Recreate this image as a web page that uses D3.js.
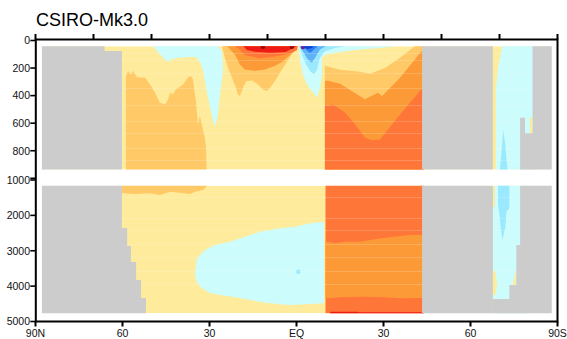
<!DOCTYPE html>
<html><head><meta charset="utf-8">
<script src="https://cdn.jsdelivr.net/npm/d3@7"></script>
<style>body{margin:0;background:#fff}svg{display:block}text{font-family:"Liberation Sans",Arial,Helvetica,sans-serif}</style>
</head><body><svg id="c" width="567" height="339"></svg>
<script>
// ---------- data (latitude: +N / -S, depth in metres) ----------
const title = "CSIRO-Mk3.0";
const xTickLats = [90, 60, 30, 0, -30, -60, -90];
const xTickLabels = ["90N", "60", "30", "EQ", "30", "60", "90S"];
const topTickLats = [90, 70, 50, 30, 10, -10, -30, -50, -70, -90];
const yTicksUpper = [0, 200, 400, 600, 800, 1000];
const yLabelsUpper = [0, 200, 400, 600, 800];
const yTicksLower = [1000, 2000, 3000, 4000, 5000];
const dataLatRange = [87.8, -88];
const upperDepthRange = [42, 936];
const lowerDepthRange = [1162, 4768];

const levelNames = ["purple","darkBlue","blue","lightBlue","cyan","lightCyan","paleYellow","lightOrange","orange","orangeRed","red","darkRed"];
const levelColors = ["#6b1d9c","#0b3fd1","#2a7cf0","#5fb2f5","#9be9ff","#ccfcfc","#feeb9c","#fec966","#fd9a38","#ff7738","#ee1a14","#8e0b0b"];
const landColor = "#cccccc";

// upper panel contour regions
const upperNhCyan = [[49.5,0],[49.5,40],[47.8,83],[46.0,126],[44.3,155],[42.9,134],[40.2,126],[36.7,119],[34.7,119],[33.3,155],[32.2,220],[31.2,343],[29.8,487],[28.8,581],[28.1,625],[27.1,538],[26.4,394],[25.7,292],[25.3,184],[25.7,76],[27.1,40],[27.1,0]];
const upperNhOrangeBlob = [[58.8,1000],[58.8,256],[58.1,222],[57.1,247],[56.4,222],[55.0,266],[52.2,271],[50.5,319],[48.8,379],[47.1,451],[45.3,464],[44.3,427],[43.6,379],[42.6,391],[41.6,355],[39.1,319],[37.4,266],[36.4,258],[35.7,283],[34.7,439],[34.0,608],[33.3,547],[32.2,656],[31.6,704],[31.2,776],[30.9,1000]];
const eqLightOrange = [[25.7,0],[25.7,40],[24.7,126],[23.6,199],[22.2,271],[20.9,343],[20.2,391],[19.5,403],[18.4,343],[17.4,295],[15.3,290],[13.3,319],[11.6,355],[10.2,367],[9.1,343],[7.1,283],[4.7,199],[2.2,119],[0.5,69],[-0.7,40],[-0.7,0]];
const eqOrange = [[24.0,0],[24.0,40],[21.2,103],[19.5,175],[17.8,211],[14.3,220],[10.9,211],[7.4,184],[4.7,153],[2.2,105],[0.5,61],[-0.5,40],[-0.5,0]];
const eqOrangeRed = [[21.2,0],[21.2,40],[19.5,69],[17.8,105],[12.6,129],[7.4,117],[2.2,97],[-0.2,69],[-0.4,40],[-0.4,0]];
const eqRed = [[18.4,0],[18.4,40],[17.1,69],[14.3,81],[9.1,88],[3.8,83],[1.2,56],[-0.2,40],[-0.2,0]];
const shLightCyan = [[-0.7,0],[-0.7,40],[-1.2,148],[-2.2,247],[-3.6,319],[-5.3,367],[-6.7,403],[-7.1,415],[-8.1,343],[-8.8,247],[-8.8,126],[-9.8,103],[-15.0,83],[-21.9,66],[-28.8,54],[-35.0,40],[-35.0,0]];
const shCyan = [[-0.9,0],[-0.9,40],[-1.9,103],[-3.3,175],[-4.7,222],[-6.0,247],[-7.1,211],[-8.1,126],[-9.8,78],[-13.3,54],[-16.7,40],[-16.7,0]];
const shLightBlue = [[-1.2,0],[-1.2,40],[-2.2,78],[-4.0,139],[-5.3,162],[-6.7,114],[-8.1,66],[-10.2,40],[-10.2,0]];
const shBlue = [[-1.9,0],[-1.9,40],[-3.3,66],[-4.7,90],[-6.0,66],[-7.4,40],[-7.4,0]];
const shDarkBlue = [[-2.2,0],[-2.2,40],[-3.6,61],[-5.3,54],[-6.0,40],[-6.0,0]];
const soLightOrange = [[-9.8,1000],[-9.8,184],[-10.9,191],[-15.0,213],[-21.9,227],[-25.3,242],[-30.5,199],[-35.7,126],[-40.9,40],[-40.9,0],[-44,0],[-44,1000]];
const soOrange = [[-9.8,1000],[-9.8,292],[-10.9,292],[-15.0,314],[-23.6,427],[-28.1,379],[-29.5,403],[-35.7,271],[-42.6,90],[-44,60],[-44,1000]];
const soOrangeRed = [[-9.8,1000],[-9.8,473],[-10.9,473],[-12.6,464],[-16.7,523],[-20.2,608],[-23.6,704],[-26.0,723],[-28.8,718],[-34.0,581],[-42.6,365],[-44,340],[-44,1000]];
const antLightCyan = [[-70.9,0],[-70.9,40],[-69.5,200],[-68.8,343],[-68.8,1000],[-82,1000],[-82,0]];
const antCyanSpike = [[-69.9,1000],[-70.5,850],[-71.3,644],[-72.0,760],[-73.0,1000]];
const antYellowNotch = [[-80.5,560],[-81.4,560],[-81.4,673],[-80.5,673]];
const upperSpots = [["darkRed",11.6,46],["darkRed",1.6,46],["purple",-2.2,47]];
const upperLevelLines = [89,142,236,345,468,582,671,780,867];
const upperLandNorth = [[88,0],[66.2,0],[66.2,76],[60.2,76],[60.2,1000],[88,1000]];
const upperLandMid = [[-43.3,0],[-67.7,0],[-67.7,1000],[-43.3,1000]];
const upperLandSouth = [[-81.4,0],[-90,0],[-90,1000],[-77.1,1000],[-77.1,560],[-78.8,560],[-78.8,673],[-81.4,673]];

// lower panel contour regions
const lowerNhLightOrange = [[60.2,1000],[60.2,1367],[55.7,1396],[50.5,1376],[47.1,1424],[43.6,1331],[40.2,1359],[36.7,1396],[35.0,1331],[32.2,1283],[30.9,1170],[30.9,1000]];
const lowerCyanBlob = [[35.0,3637],[34.3,3213],[31.6,2979],[28.1,2837],[22.9,2744],[17.8,2603],[12.6,2462],[5.7,2365],[0.5,2320],[-4.7,2224],[-9.5,2179],[-9.5,4486],[-4.7,4505],[2.2,4534],[5.7,4514],[10.9,4469],[16.0,4392],[21.2,4316],[26.4,4251],[29.8,4203],[33.3,4016],[34.7,3827]];
const lowerSoOrangeRed = [[-10.0,1000],[-44,1000],[-44,5000],[-10.0,5000]];
const lowerSoOrange = [[-10.0,2744],[-10.5,2744],[-13.3,2789],[-16.7,2744],[-21.9,2744],[-27.1,2676],[-32.2,2620],[-39.1,2555],[-44,2555],[-44,4336],[-42.6,4336],[-35.7,4344],[-28.8,4307],[-21.9,4299],[-15.0,4316],[-10.5,4344],[-10.0,4344]];
const lowerSoRed = [[-11.6,4723],[-21.2,4723],[-21.2,4740],[-44,4740],[-44,5000],[-11.6,5000]];
const antLowerLightCyan = [[-68.4,1000],[-68.4,1755],[-67.7,1780],[-67.7,5000],[-80,5000],[-80,1000]];
const antLowerCyan = [[-69.5,1000],[-73.4,1000],[-73.4,1792],[-72.4,1900],[-72.0,2350],[-71.0,2696],[-70.5,2400],[-70.0,2000],[-69.5,1700]];
const antLowerYellowA = [[-67.7,3520],[-68.6,3600],[-69.2,3950],[-68.6,4251],[-67.7,4251]];
const antLowerYellowB = [[-75.8,3480],[-75.8,3968],[-74.5,3968],[-75.3,3700]];
const lowerSpots = [["cyan",-0.6,3592]];
const lowerLevelLines = [1480,2074,2413,2809,3177,3573,3940];
const lowerLandNorth = [[88,1000],[60.2,1000],[60.2,2357],[58.4,2357],[58.4,2866],[57.1,2866],[57.1,3318],[55.3,3318],[55.3,3827],[53.6,3827],[53.6,4336],[51.9,4336],[51.9,5000],[88,5000]];
const lowerLandMid = [[-43.3,1000],[-67.7,1000],[-67.7,5000],[-43.3,5000]];
const lowerLandSouth = [[-77.1,1000],[-90,1000],[-90,5000],[-67.7,5000],[-67.7,4364],[-73.4,4364],[-73.4,3968],[-75.8,3968],[-75.8,2837],[-77.1,2837]];

const upperRegions = [
  ["lightCyan", upperNhCyan], ["lightOrange", upperNhOrangeBlob],
  ["lightOrange", eqLightOrange], ["orange", eqOrange], ["orangeRed", eqOrangeRed], ["red", eqRed],
  ["lightCyan", shLightCyan], ["cyan", shCyan], ["lightBlue", shLightBlue], ["blue", shBlue], ["darkBlue", shDarkBlue],
  ["lightOrange", soLightOrange], ["orange", soOrange], ["orangeRed", soOrangeRed],
  ["lightCyan", antLightCyan], ["cyan", antCyanSpike], ["paleYellow", antYellowNotch]
];
const lowerRegions = [
  ["lightOrange", lowerNhLightOrange], ["lightCyan", lowerCyanBlob],
  ["orangeRed", lowerSoOrangeRed], ["orange", lowerSoOrange], ["red", lowerSoRed],
  ["lightCyan", antLowerLightCyan], ["cyan", antLowerCyan], ["paleYellow", antLowerYellowA], ["paleYellow", antLowerYellowB]
];

// ---------- drawing ----------
const svg = d3.select("#c");
const x = d3.scaleLinear().domain([90, -90]).range([35.5, 557.5]);
const yU = d3.scaleLinear().domain([0, 1000]).range([40.5, 178.3]);
const yL = d3.scaleLinear().domain([1000, 5000]).range([180, 321.5]);
const color = d3.scaleOrdinal().domain(levelNames).range(levelColors);

function panel(id, y, depthRange, regions, spots, levelLines, lands) {
  const x0 = x(dataLatRange[0]), x1 = x(dataLatRange[1]);
  const y0 = y(depthRange[0]), y1 = y(depthRange[1]);
  svg.append("clipPath").attr("id", id).append("rect")
    .attr("x", x0).attr("y", y0).attr("width", x1 - x0).attr("height", y1 - y0);
  const g = svg.append("g").attr("clip-path", `url(#${id})`);
  g.append("rect").attr("x", x0).attr("y", y0).attr("width", x1 - x0).attr("height", y1 - y0)
    .attr("fill", color("paleYellow"));
  const line = d3.line().x(d => x(d[0])).y(d => y(d[1]));
  regions.forEach(([lvl, pts]) => g.append("path").attr("d", line(pts) + "Z").attr("fill", color(lvl)));
  spots.forEach(([lvl, lat, dep]) => g.append("circle").attr("cx", x(lat)).attr("cy", y(dep)).attr("r", 2.2).attr("fill", color(lvl)));
  levelLines.forEach(d => g.append("line").attr("x1", x0).attr("x2", x1).attr("y1", Math.round(y(d)) + 0.5).attr("y2", Math.round(y(d)) + 0.5)
    .attr("stroke", "#fff").attr("stroke-opacity", 0.18).attr("stroke-width", 1));
  lands.forEach(pts => g.append("path").attr("d", line(pts) + "Z").attr("fill", landColor));
}
panel("clipU", yU, upperDepthRange, upperRegions, upperSpots, upperLevelLines, [upperLandNorth, upperLandMid, upperLandSouth]);
panel("clipL", yL, lowerDepthRange, lowerRegions, lowerSpots, lowerLevelLines, [lowerLandNorth, lowerLandMid, lowerLandSouth]);

// frame
const fx0 = x(90) + 0.3, fx1 = x(-90), fy0 = yU(0) - 1, fy1 = yL(5000);
svg.append("rect").attr("x", fx0).attr("y", fy0).attr("width", fx1 - fx0).attr("height", fy1 - fy0)
  .attr("fill", "none").attr("stroke", "#000").attr("stroke-width", 2);

// top ticks
svg.selectAll(".tt").data(topTickLats).enter().append("line")
  .attr("x1", d => x(d)).attr("x2", d => x(d)).attr("y1", fy0).attr("y2", fy0 - 5.5)
  .attr("stroke", "#000").attr("stroke-width", 2);
// bottom ticks + labels
svg.selectAll(".bt").data(xTickLats).enter().append("line")
  .attr("x1", d => x(d)).attr("x2", d => x(d)).attr("y1", fy1).attr("y2", fy1 + 5)
  .attr("stroke", "#000").attr("stroke-width", 2);
svg.selectAll(".bl").data(xTickLats).enter().append("text")
  .attr("x", d => x(d)).attr("y", 337).attr("text-anchor", "middle")
  .attr("font-size", 10.5).attr("fill", "#111").text((d, i) => xTickLabels[i]);

// left ticks + labels (two depth segments)
function yAxis(ticks, labels, y) {
  ticks.forEach(t => {
    svg.append("line").attr("x1", fx0).attr("x2", fx0 - 5.5).attr("y1", y(t)).attr("y2", y(t))
      .attr("stroke", "#000").attr("stroke-width", 1.6);
  });
  labels.forEach(t => {
    svg.append("text").attr("x", 30).attr("y", y(t) + 3.8).attr("text-anchor", "end")
      .attr("font-size", 10.5).attr("fill", "#111").text(t);
  });
}
yAxis(yTicksUpper, yLabelsUpper, yU);
yAxis(yTicksLower, yTicksLower, yL);

svg.append("text").attr("x", 36).attr("y", 26).attr("font-size", 18).attr("fill", "#000").text(title);
</script></body></html>
